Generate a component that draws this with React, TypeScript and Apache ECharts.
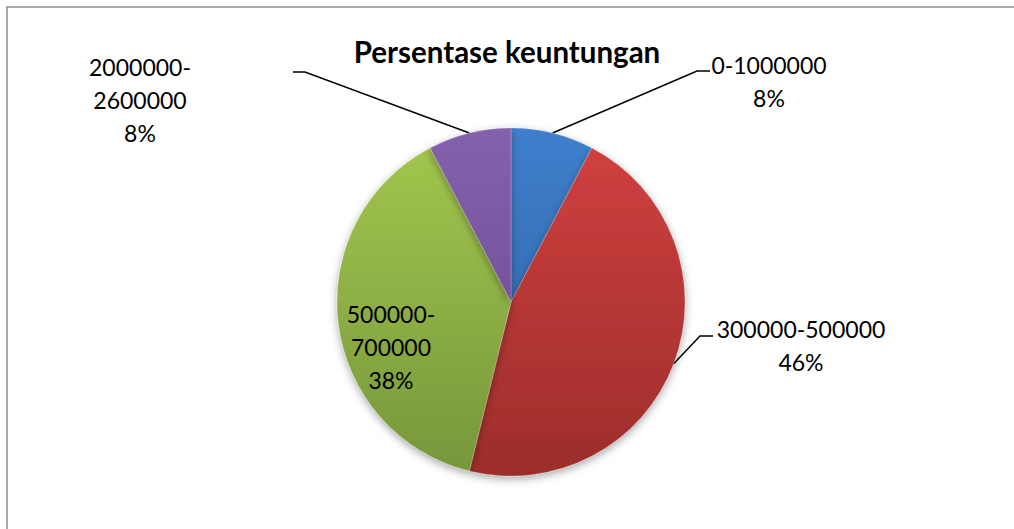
import React, { useEffect, useRef } from "react";
import * as echarts from "echarts";

const titleText = "Persentase keuntungan";
const categories = ["0-1000000", "300000-500000", "500000-700000", "2000000-2600000"];
const values = [1, 6, 5, 1];
const topColors = ["#3f7fcd", "#d24140", "#a4c84f", "#8561ad"];
const bottomColors = ["#2d5f9c", "#9c2d2b", "#76963a", "#65478a"];
// label anchor (center) positions and leader elbows
const labelAnchors = [
  [769, 81],
  [801, 345],
  [391, 347],
  [140, 100],
];
const leaderElbows: (number[] | null)[] = [[697, 71], [700, 336], null, [305, 72]];
const leaderEnds: (number[] | null)[] = [[710, 71], [713, 336], null, [293, 72]];
const FONT = "Lato, 'Open Sans', sans-serif";

export default function App() {
  const ref = useRef<HTMLDivElement>(null);
  useEffect(() => {
    if (!ref.current) return;
    const chart = echarts.init(ref.current, undefined, { renderer: "svg" });
    const data = categories.map((name, i) => ({
      name,
      value: values[i],
      itemStyle: {
        color: new echarts.graphic.LinearGradient(0, 128, 0, 476, [
          { offset: 0, color: topColors[i] },
          { offset: 1, color: bottomColors[i] },
        ], true),
      },
      label: i === 2 ? { position: "inside" } : { position: "outside" },
      labelLine: { show: i !== 2 },
    }));
    chart.setOption({
      animation: false,
      backgroundColor: "#ffffff",
      title: {
        text: titleText,
        left: "center",
        top: 31,
        textStyle: { fontFamily: FONT, fontSize: 29.5, fontWeight: "bold", color: "#000" },
      },
      graphic: [
        {
          type: "rect",
          shape: { x: 7, y: 7, width: 1030, height: 540 },
          style: { fill: "none", stroke: "#8e8e8e", lineWidth: 1.5 },
          silent: true,
        },
      ],
      series: [
        {
          type: "pie",
          center: [511, 302],
          radius: [0, 174],
          startAngle: 90,
          clockwise: true,
          percentPrecision: 0,
          data,
          itemStyle: {
            borderColor: "rgba(255,255,255,0.35)",
            borderWidth: 0.5,
            shadowBlur: 8,
            shadowOffsetY: 3,
            shadowColor: "rgba(0,0,0,0.35)",
          },
          label: {
            show: true,
            color: "#000",
            fontFamily: FONT,
            fontSize: 23,
            lineHeight: 33,
            align: "center",
            formatter: (p: any) => {
              const nm = p.dataIndex >= 2 ? p.name.replace("-", "-\n") : p.name;
              return nm + "\n" + p.percent + "%";
            },
          },
          labelLine: {
            lineStyle: { color: "#000", width: 1.5 },
          },
          labelLayout: (params: any) => {
            const i = params.dataIndex;
            const [x, y] = labelAnchors[i];
            const res: any = { x, y, align: "center", verticalAlign: "middle" };
            if (leaderElbows[i] && params.labelLinePoints) {
              res.labelLinePoints = [params.labelLinePoints[0], leaderElbows[i], leaderEnds[i]];
            }
            return res;
          },
        },
      ],
    });
    return () => chart.dispose();
  }, []);
  return (
    <div
      ref={ref}
      style={{ position: "fixed", left: 0, top: 0, width: 1014, height: 529 }}
    />
  );
}
